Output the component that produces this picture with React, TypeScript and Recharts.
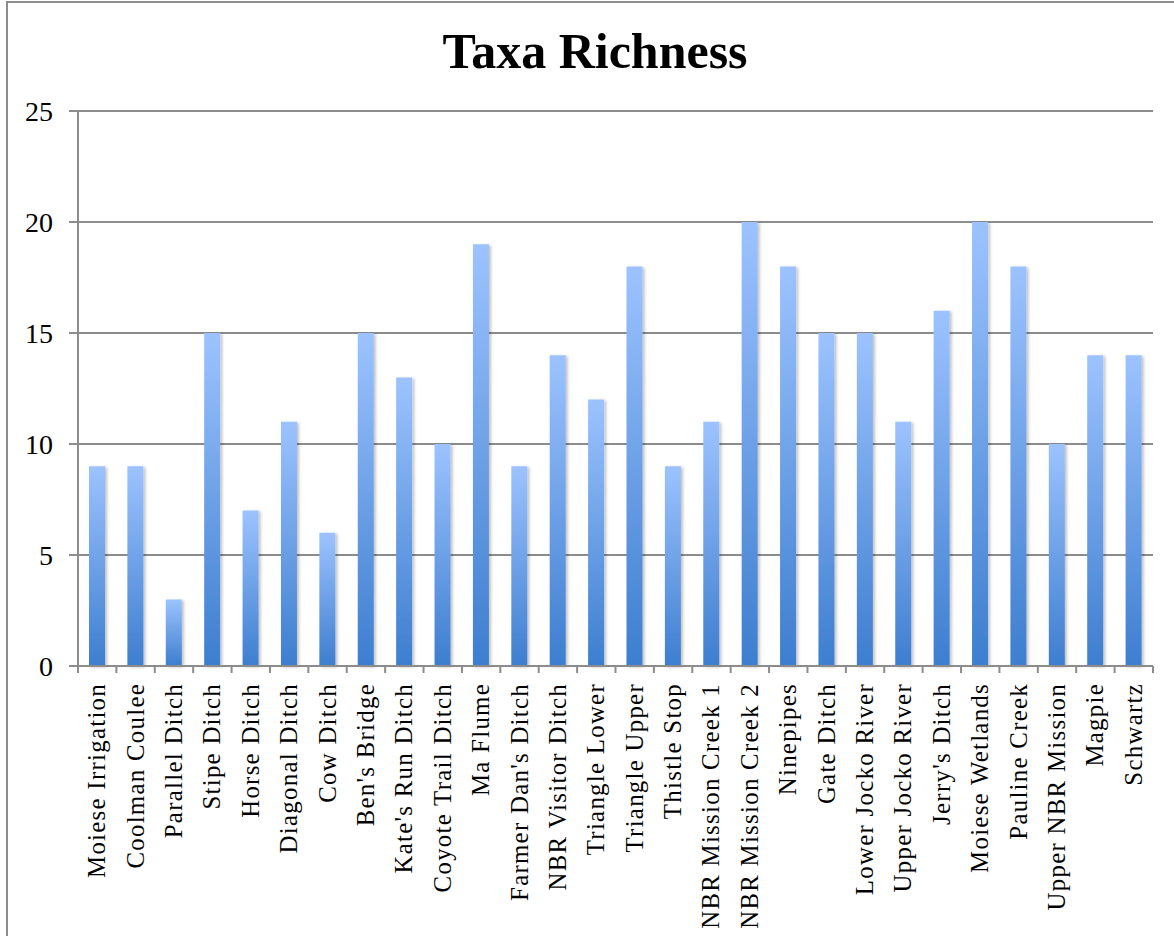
import React from 'react';
import { BarChart, Bar, XAxis, YAxis, CartesianGrid } from 'recharts';

const sites = [
  'Moiese Irrigation', 'Coolman Coulee', 'Parallel Ditch', 'Stipe Ditch', 'Horse Ditch',
  'Diagonal Ditch', 'Cow Ditch', "Ben's  Bridge", "Kate's Run Ditch", 'Coyote Trail Ditch',
  'Ma Flume', "Farmer Dan's Ditch", 'NBR Visitor Ditch', 'Triangle Lower', 'Triangle Upper',
  'Thistle Stop', 'NBR Mission Creek 1', 'NBR Mission Creek 2', 'Ninepipes', 'Gate Ditch',
  'Lower Jocko River', 'Upper Jocko River', "Jerry's Ditch", 'Moiese Wetlands', 'Pauline Creek',
  'Upper NBR Mission', 'Magpie', 'Schwartz',
];
const richness = [9, 9, 3, 15, 7, 11, 6, 15, 13, 10, 19, 9, 14, 12, 18, 9, 11, 20, 18, 15, 15, 11, 16, 20, 18, 10, 14, 14];
const yTicks = [0, 5, 10, 15, 20, 25];

const data = sites.map((name, i) => ({ name, value: richness[i] }));

const FONT = '"Liberation Serif", "Times New Roman", serif';
const GRID = '#8c8c8c';

const RotatedTick = (props: any) => {
  const { x, y, payload, index } = props;
  const half = payload && typeof payload.offset === 'number' && payload.offset > 0 ? payload.offset : 0;
  const isLast = index === sites.length - 1;
  return (
    <g>
      {half > 0 && <line x1={x - half} x2={x - half} y1={y} y2={y + 7} stroke={GRID} strokeWidth={2} />}
      {half > 0 && isLast && <line x1={x + half} x2={x + half} y1={y} y2={y + 7} stroke={GRID} strokeWidth={2} />}
      <g transform={`translate(${x},${y})`}>
        <text
          x={0}
          y={0}
          dx={-17}
          dy={8}
          transform="rotate(-90)"
          textAnchor="end"
          fill="#000"
          style={{ fontFamily: FONT, fontSize: 24.8, letterSpacing: 1.3 }}
        >
          {payload.value}
        </text>
      </g>
    </g>
  );
};

export default function App() {
  return (
    <div style={{ position: 'absolute', left: 0, top: 0, width: 1174, height: 936, overflow: 'hidden', background: '#fff' }}>
      <div style={{ position: 'absolute', left: 6, top: 1, width: 1300, height: 1100, border: '2px solid #8c8c8c', boxSizing: 'border-box' }} />
      <svg width={1174} height={100} style={{ position: 'absolute', left: 0, top: 0 }}>
        <text x={595} y={68} textAnchor="middle" style={{ fontFamily: FONT, fontSize: 50, fontWeight: 'bold' }} fill="#000">
          Taxa Richness
        </text>
      </svg>
      <div style={{ position: 'absolute', left: 0, top: 0 }}>
        <BarChart width={1174} height={936} data={data} margin={{ top: 111, right: 21, bottom: 0, left: 0 }} barCategoryGap={0}>
          <defs>
            <linearGradient id="barGrad" x1="0" y1="0" x2="0" y2="1">
              <stop offset="0%" stopColor="#9cc3ff" />
              <stop offset="100%" stopColor="#3d7ecf" />
            </linearGradient>
            <filter id="barShadow" x="-50%" y="-10%" width="200%" height="120%">
              <feDropShadow dx="2" dy="1" stdDeviation="1.5" floodColor="#000" floodOpacity="0.25" />
            </filter>
          </defs>
          <CartesianGrid vertical={false} stroke={GRID} strokeWidth={2} />
          <XAxis
            dataKey="name"
            interval={0}
            height={270}
            tickLine={false}
            tickSize={0}
            tickMargin={0}
            axisLine={{ stroke: GRID, strokeWidth: 2 }}
            tick={<RotatedTick />}
          />
          <YAxis
            domain={[0, 25]}
            ticks={yTicks}
            width={78}
            tickSize={9}
            tickMargin={16}
            axisLine={{ stroke: GRID, strokeWidth: 2 }}
            tickLine={{ stroke: GRID, strokeWidth: 2 }}
            tick={{ fill: '#000', fontFamily: FONT, fontSize: 28 }}
          />
          <Bar dataKey="value" barSize={16} fill="url(#barGrad)" filter="url(#barShadow)" isAnimationActive={false} />
        </BarChart>
      </div>
    </div>
  );
}
